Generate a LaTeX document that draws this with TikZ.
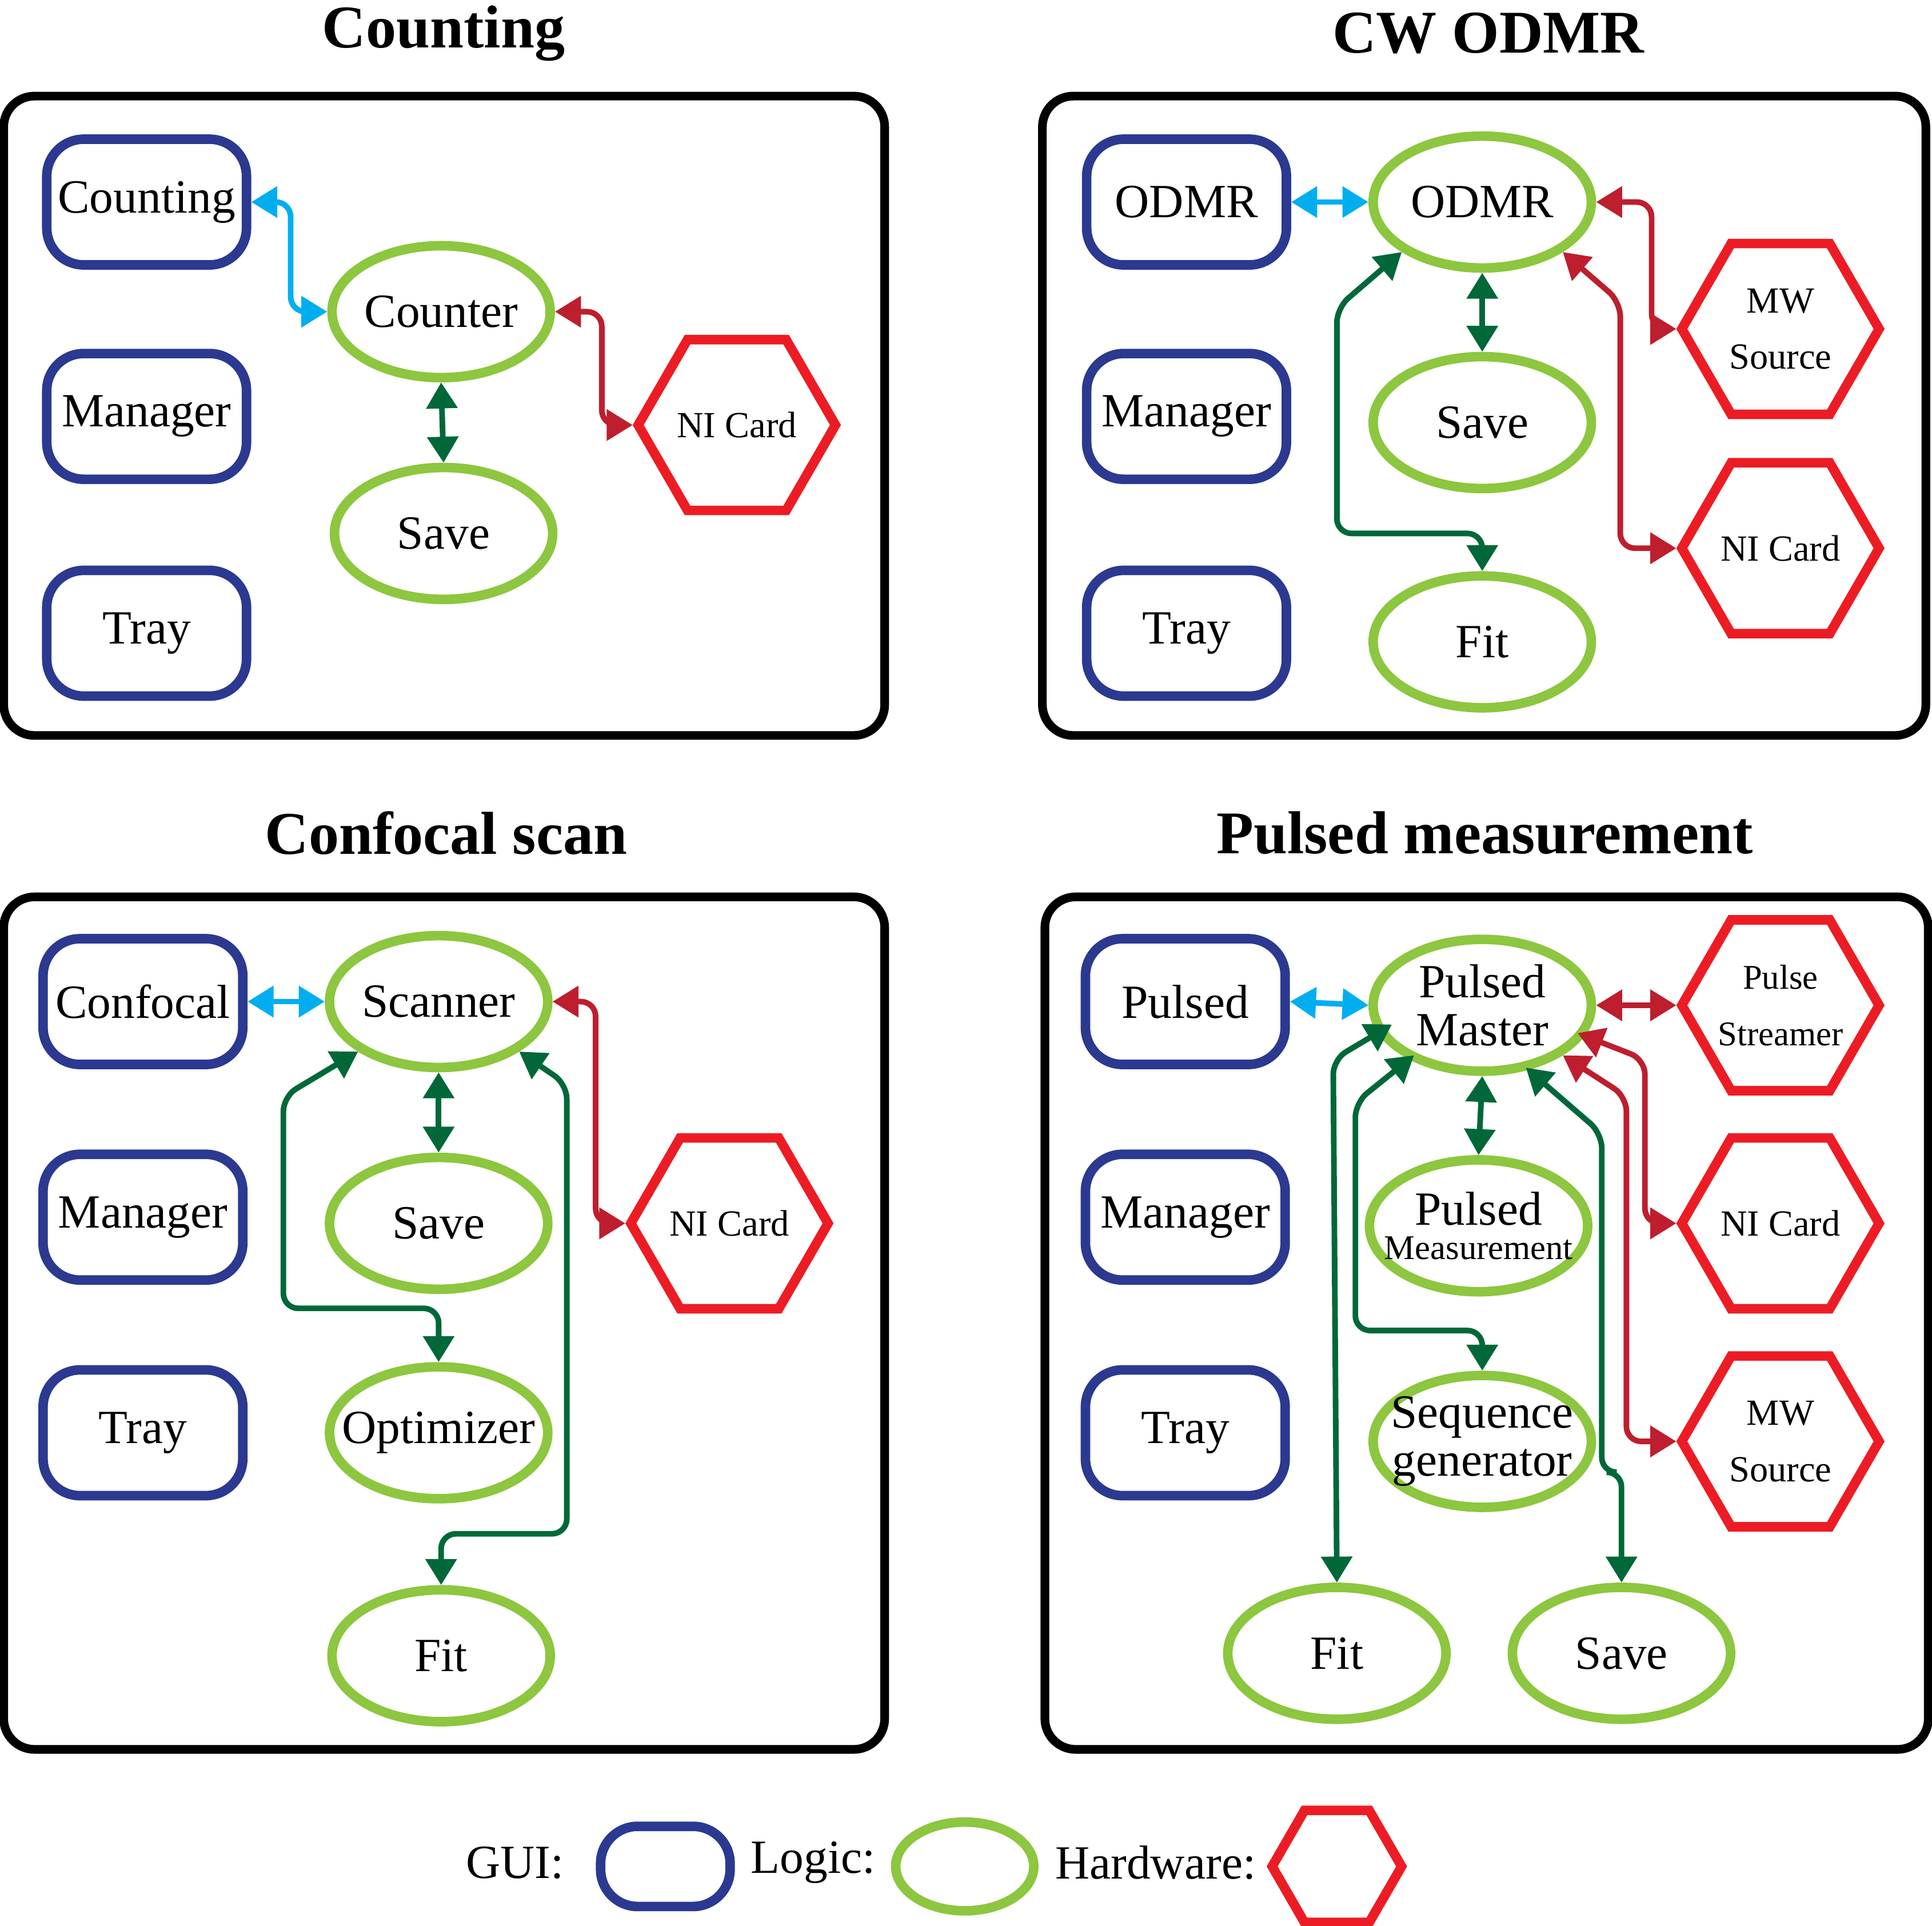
\documentclass[tikz,border=0pt]{standalone}
\usepackage{fontspec}
\setmainfont{Liberation Serif}
\usetikzlibrary{shapes.geometric,arrows.meta}
\definecolor{guiblue}{RGB}{43,57,144}
\definecolor{logicgreen}{RGB}{141,198,63}
\definecolor{hwred}{RGB}{237,28,36}
\definecolor{guicyan}{RGB}{0,174,239}
\definecolor{arrgreen}{RGB}{0,104,56}
\definecolor{arrred}{RGB}{190,30,45}
\tikzset{
  gui/.style={draw=guiblue,line width=2.2pt,rounded corners=0.3cm,inner sep=0pt,minimum width=1.62cm,minimum height=1.02cm,font=\fontsize{11}{11}\selectfont},
  logic/.style={draw=logicgreen,line width=2.2pt,ellipse,minimum width=1.77cm,minimum height=1.07cm,inner sep=-8pt,font=\fontsize{11}{11}\selectfont},
  hw/.style={draw=hwred,line width=2.2pt,regular polygon,regular polygon sides=6,minimum size=1.6cm,inner sep=-8pt,font=\fontsize{8.5}{13}\selectfont},
  panel/.style={draw=black,line width=2pt,rounded corners=0.25cm},
  title/.style={font=\fontsize{14}{14}\selectfont\bfseries},
  cyanarr/.style={draw=guicyan,line width=1.3pt,{Triangle[length=6pt,width=7pt]}-{Triangle[length=6pt,width=7pt]},rounded corners=0.12cm},
  greenarr/.style={draw=arrgreen,line width=1.3pt,{Triangle[length=6pt,width=7pt]}-{Triangle[length=6pt,width=7pt]},rounded corners=0.12cm},
  redarr/.style={draw=arrred,line width=1.3pt,{Triangle[length=6pt,width=7pt]}-{Triangle[length=6pt,width=7pt]},rounded corners=0.12cm},
  legend/.style={font=\fontsize{11}{11}\selectfont}
}
\begin{document}
\begin{tikzpicture}[x=0.01cm,y=-0.01cm]
\useasboundingbox (0,0) rectangle (1568,1563);

% Panels and titles
\draw[panel] (3,78) rectangle (718,597);
\draw[panel] (846,78) rectangle (1563,597);
\draw[panel] (3,728) rectangle (718,1420);
\draw[panel] (848,728) rectangle (1565,1420);
\node[title] (tcount) at (360,27) {Counting};
\node[title] (todmr) at (1208,27) {CW ODMR};
\node[title] (tconf) at (362,676) {Confocal scan};
\node[title] (tpulse) at (1205,676) {Pulsed measurement};

% Counting
\node[gui] (cgui) at (119,164) {Counting};
\node[gui] (cman) at (119,338) {Manager};
\node[gui] (ctray) at (119,514) {Tray};
\node[logic] (counter) at (358,253) {Counter};
\node[logic] (csave) at (360,433) {Save};
\node[hw] (cni) at (598,345) {NI Card};
\draw[cyanarr] (cgui.east) -- ++(32,0) |- (counter.west);
\draw[greenarr] (counter.south) -- (csave.north);
\draw[redarr] (counter.east) -- ++(38,0) |- (cni.west);

% CW ODMR
\node[gui] (ogui) at (963,164) {ODMR};
\node[gui] (oman) at (963,338) {Manager};
\node[gui] (otray) at (963,514) {Tray};
\node[logic] (odmr) at (1203,164) {ODMR};
\node[logic] (osave) at (1203,343) {Save};
\node[logic] (ofit) at (1203,521) {Fit};
\node[hw,align=center] (omw) at (1445,267) {MW\\Source};
\node[hw] (oni) at (1445,445) {NI Card};
\draw[cyanarr] (ogui.east) -- (odmr.west);
\draw[greenarr] (odmr.south) -- (osave.north);
\draw[greenarr] (odmr.south west) -- (1085,250) -- (1085,433) -| (ofit.north);
\draw[redarr] (odmr.east) -- ++(45,0) |- (omw.west);
\draw[redarr] (odmr.south east) -- (1315,245) |- (oni.west);

% Confocal scan
\node[gui] (sgui) at (116,813) {Confocal};
\node[gui] (sman) at (116,988) {Manager};
\node[gui] (stray) at (116,1163) {Tray};
\node[logic] (scanner) at (356,813) {Scanner};
\node[logic] (ssave) at (356,993) {Save};
\node[logic] (sopt) at (356,1163) {Optimizer};
\node[logic] (sfit) at (358,1344) {Fit};
\node[hw] (sni) at (592,993) {NI Card};
\draw[cyanarr] (sgui.east) -- (scanner.west);
\draw[greenarr] (scanner.south west) -- (230,890) -- (230,1062) -| (sopt.north);
\draw[greenarr] (scanner.south) -- (ssave.north);
\draw[greenarr] (scanner.south east) -- (460,880) -- (460,1245) -| (sfit.north);
\draw[redarr] (scanner.east) -- ++(35,0) |- (sni.west);

% Pulsed measurement
\node[gui] (pgui) at (962,813) {Pulsed};
\node[gui] (pman) at (962,988) {Manager};
\node[gui] (ptray) at (962,1163) {Tray};
\node[logic,align=center] (pmaster) at (1203,816) {Pulsed\\Master};
\node[logic,align=center] (pmeas) at (1200,995) {Pulsed\\[-3pt]{\fontsize{8}{8}\selectfont Measurement}};
\node[logic,align=center] (pseq) at (1203,1170) {Sequence\\generator};
\node[logic] (pfit) at (1085,1342) {Fit};
\node[logic] (psave) at (1316,1342) {Save};
\node[hw,align=center,font=\fontsize{8}{13}\selectfont] (pstream) at (1445,816) {Pulse\\Streamer};
\node[hw] (pni) at (1445,993) {NI Card};
\node[hw,align=center] (pmw) at (1445,1170) {MW\\Source};
\draw[cyanarr] (pgui.east) -- (pmaster.west);
\draw[greenarr] (pmaster.south) -- (pmeas.north);
\draw[greenarr] (pmaster.south west) ++(-8,-25) coordinate (pm1) (pm1) -- (1082,860) -- (pfit.north);
\draw[greenarr] (pmaster.south west) ++(10,0) coordinate (pm2) (pm2) -- (1100,895) -- (1100,1080) -| (pseq.north);
\draw[greenarr] (pmaster.south east) ++(-30,10) coordinate (pm3) (pm3) -- (1300,920) -- (1300,1195) -| (psave.north);
\draw[redarr] (pmaster.east) -- (pstream.west);
\draw[redarr] (pmaster.south east) ++(12,-18) coordinate (pm4) (pm4) -- (1335,860) |- (pni.west);
\draw[redarr] (pmaster.south east) ++(0,0) coordinate (pm5) (pm5) -- (1320,890) |- (pmw.west);

% Legend
\node[legend] (lgui) at (418,1512) {GUI:};
\node[gui,minimum width=1.05cm,minimum height=0.65cm] (lbox) at (540,1515) {};
\node[legend] (llogic) at (660,1512) {Logic:};
\node[logic,minimum width=1.12cm,minimum height=0.72cm] (lell) at (783,1515) {};
\node[legend] (lhw) at (938,1512) {Hardware:};
\node[hw,minimum size=1.05cm] (lhex) at (1085,1515) {};
\end{tikzpicture}
\end{document}
